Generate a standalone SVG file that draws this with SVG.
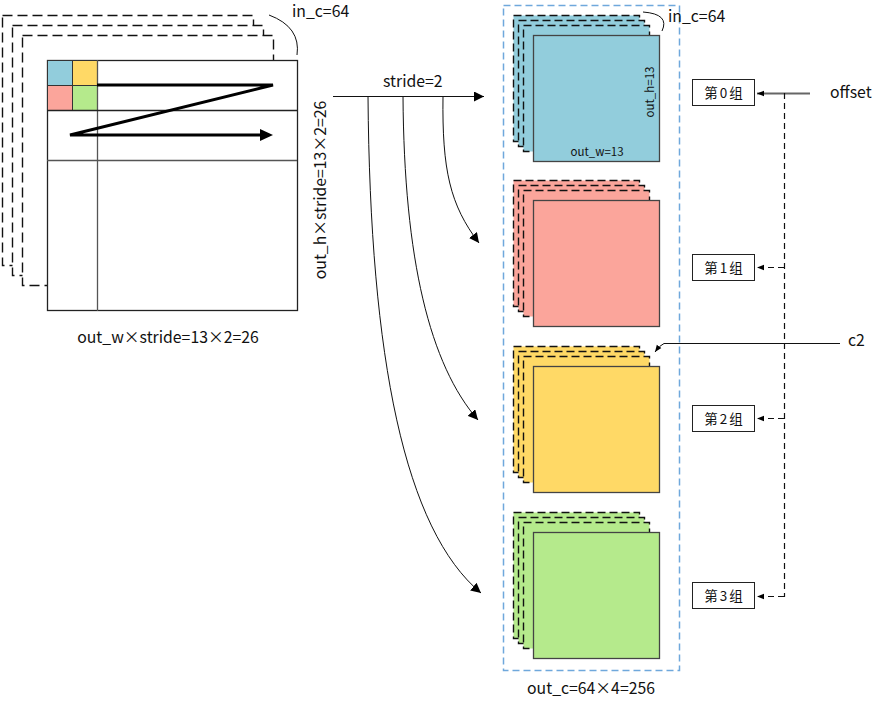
<svg xmlns="http://www.w3.org/2000/svg" width="877" height="706" viewBox="0 0 877 706">
<defs>
<style>
text{font-family:"Noto Sans CJK SC","Noto Sans",sans-serif;fill:#111}
.t15{font-size:15.8px}
.t11{font-size:11.5px}
.lb{font-size:13.5px;letter-spacing:2px}
.box{fill:#fff;stroke:#222;stroke-width:1}
.bk{stroke:#111;stroke-width:1.4;stroke-dasharray:8,4}
.bkl{stroke:#111;stroke-width:1.4;stroke-dasharray:10,5}
.fr{stroke:#444;stroke-width:1.3}
.ln{fill:none;stroke:#111;stroke-width:1}
.dl{fill:none;stroke:#111;stroke-width:1.2;stroke-dasharray:6,4}
</style>
<marker id="ah" viewBox="0 0 10 10" refX="10" refY="5" markerWidth="10" markerHeight="10" markerUnits="userSpaceOnUse" orient="auto"><path d="M0,0 L10,5 L0,10 z" fill="#000"/></marker>
<marker id="ahs" viewBox="0 0 10 10" refX="10" refY="5" markerWidth="7" markerHeight="7" markerUnits="userSpaceOnUse" orient="auto"><path d="M0,1 L10,5 L0,9 z" fill="#000"/></marker>
</defs>

<g id="input">
<rect x="2.5" y="15.5" width="251" height="250" fill="#fff" class="bkl"/>
<rect x="12.5" y="25.5" width="251" height="250" fill="#fff" class="bkl"/>
<rect x="22.5" y="35.5" width="251" height="250" fill="#fff" class="bkl"/>
<rect x="47.5" y="60.5" width="250" height="250" fill="#fff" stroke="#222" stroke-width="1.3"/>
<rect x="47.5" y="60.5" width="25" height="25" fill="#92cddc" stroke="#333"/>
<rect x="72.5" y="60.5" width="25" height="25" fill="#ffd966" stroke="#333"/>
<rect x="47.5" y="85.5" width="25" height="25" fill="#fba59b" stroke="#333"/>
<rect x="72.5" y="85.5" width="25" height="25" fill="#b5ea8c" stroke="#333"/>
<line x1="97.5" y1="60" x2="97.5" y2="311" stroke="#555" stroke-width="1.3"/>
<line x1="47" y1="110.5" x2="297" y2="110.5" stroke="#222" stroke-width="1.3"/>
<line x1="47" y1="160.5" x2="297" y2="160.5" stroke="#555" stroke-width="1.3"/>
<polyline points="97,85 273,85 70,135 262,135" fill="none" stroke="#000" stroke-width="3"/>
<path d="M260,129 L273,135 L260,141 z" fill="#000"/>
<path d="M269,15 Q301,27 297,55" class="ln" stroke="#444"/>
<text x="292" y="17" class="t15">in_c=64</text>
<text x="168" y="343" class="t15" text-anchor="middle">out_w×stride=13×2=26</text>
<text transform="translate(326,190) rotate(-90)" class="t15" text-anchor="middle">out_h×stride=13×2=26</text>
</g>

<g id="container">
<rect x="503.5" y="5.5" width="176" height="665" fill="none" stroke="#6fa8dc" stroke-width="1.5" stroke-dasharray="7,4"/>
<text x="591" y="694" class="t15" text-anchor="middle">out_c=64×4=256</text>
</g>

<g id="group0">
<rect x="513.5" y="15.5" width="126" height="126" fill="#92cddc" class="bk"/>
<rect x="518.5" y="20.5" width="126" height="126" fill="#92cddc" class="bk"/>
<rect x="523.5" y="25.5" width="126" height="126" fill="#92cddc" class="bk"/>
<rect x="533.5" y="35.5" width="126" height="126" fill="#92cddc" class="fr"/>
<path d="M643,12 Q670,14 662,31" class="ln" stroke="#444"/>
<text x="668" y="22" class="t15">in_c=64</text>
<text x="597" y="156" class="t11" text-anchor="middle">out_w=13</text>
<text transform="translate(654,92) rotate(-90)" class="t11" text-anchor="middle">out_h=13</text>
</g>

<g id="group1">
<rect x="513.5" y="180.5" width="126" height="126" fill="#fba59b" class="bk"/>
<rect x="518.5" y="185.5" width="126" height="126" fill="#fba59b" class="bk"/>
<rect x="523.5" y="190.5" width="126" height="126" fill="#fba59b" class="bk"/>
<rect x="533.5" y="200.5" width="126" height="126" fill="#fba59b" class="fr"/>
</g>

<g id="group2">
<rect x="513.5" y="346.5" width="126" height="126" fill="#ffd966" class="bk"/>
<rect x="518.5" y="351.5" width="126" height="126" fill="#ffd966" class="bk"/>
<rect x="523.5" y="356.5" width="126" height="126" fill="#ffd966" class="bk"/>
<rect x="533.5" y="366.5" width="126" height="126" fill="#ffd966" class="fr"/>
</g>

<g id="group3">
<rect x="513.5" y="512.5" width="126" height="126" fill="#b5ea8c" class="bk"/>
<rect x="518.5" y="517.5" width="126" height="126" fill="#b5ea8c" class="bk"/>
<rect x="523.5" y="522.5" width="126" height="126" fill="#b5ea8c" class="bk"/>
<rect x="533.5" y="532.5" width="126" height="126" fill="#b5ea8c" class="fr"/>
</g>

<g id="label0"><rect x="692.5" y="79.5" width="62" height="26" class="box"/><text x="724.5" y="97.5" class="lb" text-anchor="middle">第0组</text></g>
<g id="label1"><rect x="692.5" y="254.5" width="62" height="26" class="box"/><text x="724.5" y="272.5" class="lb" text-anchor="middle">第1组</text></g>
<g id="label2"><rect x="692.5" y="405.5" width="62" height="26" class="box"/><text x="724.5" y="423.5" class="lb" text-anchor="middle">第2组</text></g>
<g id="label3"><rect x="692.5" y="582.5" width="62" height="26" class="box"/><text x="724.5" y="600.5" class="lb" text-anchor="middle">第3组</text></g>

<g id="offset"><text x="830" y="98" class="t15">offset</text></g>
<g id="c2label"><text x="848" y="346" class="t15">c2</text></g>
<g id="stride"><text x="383" y="87" class="t15">stride=2</text></g>

<g id="connectors">
<path d="M333,96.5 L484,96.5" class="ln" marker-end="url(#ah)"/>
<path d="M443,96 C442,170 450,205 479,243" class="ln" marker-end="url(#ah)"/>
<path d="M403,96 C404,260 430,365 478,420" class="ln" marker-end="url(#ah)"/>
<path d="M368,96 C370,360 405,530 481,593" class="ln" marker-end="url(#ah)"/>
<path d="M810,93.5 L757,93.5" fill="none" stroke="#666" stroke-width="2" marker-end="url(#ahs)"/>
<path d="M784.5,93 L784.5,597" class="dl"/>
<path d="M784,267.5 L757,267.5" class="dl" marker-end="url(#ahs)"/>
<path d="M784,418.5 L757,418.5" class="dl" marker-end="url(#ahs)"/>
<path d="M784,596.5 L757,596.5" class="dl" marker-end="url(#ahs)"/>
<path d="M840,343.5 L664,343.5 Q660,345 655,352" class="ln" marker-end="url(#ahs)"/>
</g>
</svg>
